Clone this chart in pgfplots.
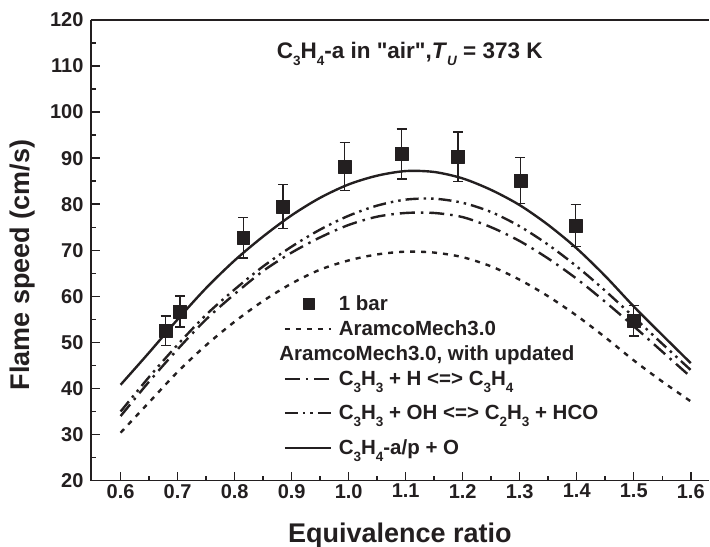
\documentclass[border=0pt]{standalone}
\usepackage{fontspec}
\setmainfont{Liberation Sans}
\newfontfamily\qfont{Liberation Sans}
\usepackage{pgfplots}
\usepackage{pgfplotstable}
\pgfplotsset{compat=1.18}
\definecolor{ink}{HTML}{231F20}

% low, fairly large subscripts
\newcommand{\sub}[1]{\raisebox{-0.33em}{\fontsize{13.5}{14}\selectfont #1}}
% legend text moved down without changing the row layout
\newcommand{\shiftdown}[2]{\raisebox{-#1}[\height][\depth]{#2}}

% measured flame speeds, 1 bar: phi, S_u, error
\pgfplotstableread{
x      y      ey
0.679  52.5   3.2
0.704  56.7   3.4
0.815  72.7   4.4
0.885  79.5   4.8
0.993  88.2   5.2
1.093  90.9   5.4
1.192  90.3   5.4
1.301  85.2   5.0
1.398  75.4   4.6
1.500  54.7   3.3
}\expdata

% simulations: AramcoMech3.0 and the three updated versions
\pgfplotstableread{
x     aramco  upH    upOH   upO
0.60  30.4    34.0   35.0   40.8
0.65  37.0    41.5   42.5   47.8
0.70  43.6    48.5   49.5   55.0
0.75  49.4    55.0   56.0   61.8
0.80  54.5    60.5   61.5   67.8
0.85  59.0    65.5   66.5   73.0
0.90  62.8    69.5   70.8   77.6
0.95  65.8    72.8   74.5   81.4
1.00  67.8    75.5   77.5   84.3
1.05  69.1    77.3   79.7   86.2
1.10  69.7    78.1   81.0   87.2
1.15  69.5    78.1   81.2   87.0
1.20  68.5    77.2   80.3   85.6
1.25  66.5    75.0   78.3   83.1
1.30  63.6    72.0   75.2   79.8
1.35  60.0    68.2   71.2   75.5
1.40  55.8    63.8   66.5   70.4
1.45  51.1    58.8   61.2   64.4
1.50  46.1    53.5   55.5   57.8
1.55  41.5    48.0   49.7   51.6
1.60  37.2    42.5   44.0   45.5
}\simdata

\pgfplotsset{
  linesample/.style={legend image code/.code={%
    \path[draw=none, fill=none] (0pt,0pt) -- (46pt,0pt);
    \begin{pgfinterruptboundingbox}\draw[##1] (0pt,-#1) -- (46pt,-#1);\end{pgfinterruptboundingbox}}},
  linesample/.default=0pt,
  marksample/.style={legend image code/.code={\draw[##1, mark size=5.5pt] plot coordinates {(24pt,0pt)};}},
}

\begin{document}
\begin{tikzpicture}[font=\bfseries]
\begin{axis}[
  scale only axis,
  width=618.2pt, height=460.7pt,
  xmin=0.548, xmax=1.632, ymin=20, ymax=120,
  axis y line*=left,
  xtick pos=left,
  axis line style={ink, line width=1.8pt},
  every tick/.style={ink, line width=1.5pt},
  tick align=inside,
  major tick length=9pt, minor tick length=5pt,
  xtick={0.6,0.7,0.8,0.9,1.0,1.1,1.2,1.3,1.4,1.5,1.6},
  ytick={20,30,40,50,60,70,80,90,100,110,120},
  minor x tick num=1, minor y tick num=1,
  /pgf/number format/assume math mode=true,
  xticklabel style={/pgf/number format/fixed, /pgf/number format/fixed zerofill, /pgf/number format/precision=1},
  yticklabel style={xshift=-4pt},
  tick label style={font=\fontsize{20}{22}\selectfont\bfseries, text=ink},
  xlabel={Equivalence ratio},
  ylabel={Flame speed (cm/s)},
  label style={font=\fontsize{27}{30}\selectfont\bfseries, text=ink},
  ylabel style={at={(axis description cs:-0.11,0.468)}, anchor=center},
  xlabel style={at={(axis description cs:0.5,0)}, anchor=base, yshift=-61.5pt},
  legend cell align=left,
  legend style={draw=none, fill=none, inner sep=0pt,
    at={(axis cs:0.8876,60.7)}, anchor=north west,
    font=\fontsize{20.5}{22}\selectfont\bfseries, text=ink,
    row sep=5pt, column sep=6pt,
    nodes={inner sep=2pt}},
  line join=round,
]
\coordinate (SW) at (rel axis cs:0,0);
\coordinate (NE) at (rel axis cs:1,1);

\addplot[ink, only marks, mark=square*, mark size=6.5pt, marksample,
  error bars/.cd, y dir=both, y explicit,
  error bar style={ink, line width=1.4pt},
  error mark options={rotate=90, mark size=5pt, line width=1.4pt, ink},
  ]
  table[x=x, y=y, y error=ey] {\expdata};
\addlegendentry{1 bar}

\addplot[ink, line width=2.4pt, smooth, linesample, dash pattern=on 5pt off 6pt]
  table[x=x, y=aramco] {\simdata};
\addlegendentry{AramcoMech3.0}

\addlegendimage{empty legend}
\addlegendentry{\hspace{-59.4pt}AramcoMech3.0, with updated}

\addplot[ink, line width=2.4pt, smooth, linesample, dash pattern=on 15pt off 6pt on 2.5pt off 6pt]
  table[x=x, y=upH] {\simdata};
\addlegendentry{C\sub{3}H\sub{3} + H <=> C\sub{3}H\sub{4}}

\addplot[ink, line width=2.4pt, smooth, linesample=9pt, dash pattern=on 13pt off 5pt on 2.5pt off 5pt on 2.5pt off 5pt]
  table[x=x, y=upOH] {\simdata};
\addlegendentry{\shiftdown{9pt}{C\sub{3}H\sub{3} + OH <=> C\sub{2}H\sub{3} + HCO}}

\addplot[ink, line width=2.4pt, smooth, linesample=19pt]
  table[x=x, y=upO] {\simdata};
\addlegendentry{\shiftdown{19pt}{C\sub{3}H\sub{4}-a/p + O}}

\node[font=\fontsize{22.5}{24}\selectfont\bfseries, text=ink, anchor=base]
  at (axis cs:1.107,111.7)
  {C\sub{3}H\sub{4}-a in {\qfont\bfseries "air"},\textit{T}\sub{\itshape U} = 373 K};
\end{axis}
\pgfresetboundingbox
\path ([shift={(-91pt,-66.3pt)}]SW) rectangle ([shift={(1pt,20pt)}]NE);
\end{tikzpicture}
\end{document}
